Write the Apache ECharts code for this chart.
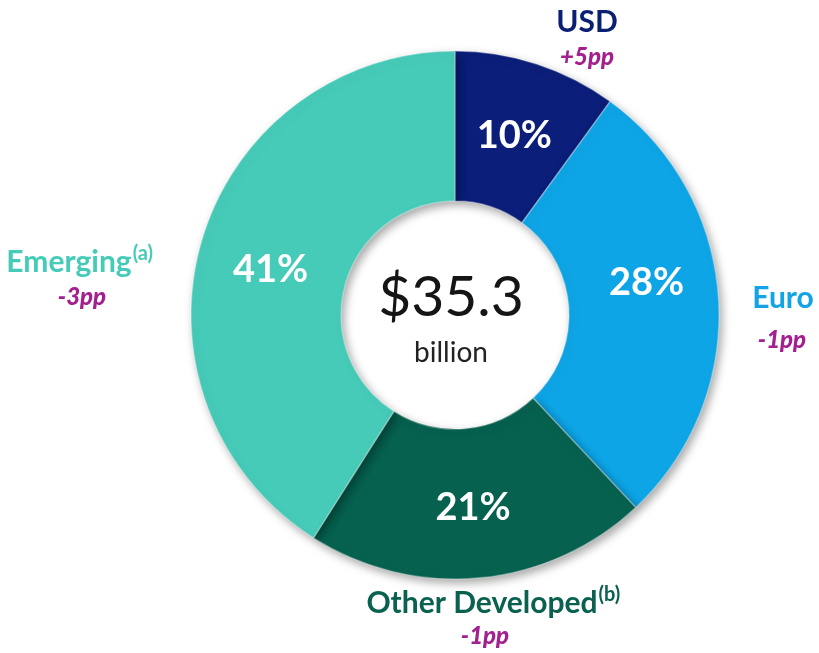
<!DOCTYPE html>
<html>
<head>
<meta charset="utf-8">
<script src="https://cdn.jsdelivr.net/npm/echarts@6/dist/echarts.min.js"></script>
<style>
  html, body { margin: 0; padding: 0; background: #fff; }
  #chart { width: 819px; height: 653px; }
</style>
</head>
<body>
<div id="chart"></div>
<script>
// currency mix, share of total (%)
const categories = ['USD', 'Euro', 'Other Developed', 'Emerging']
const shares = [10, 28, 21, 41]
const changes = ['+5pp', '-1pp', '-1pp', '-3pp']
const footnotes = ['', '', '(b)', '(a)']
const totalValue = '$35.3'
const totalUnit = 'billion'

const colors = ['#0b1f7a', '#0ea5e6', '#07614f', '#46cbb8']
const labelColors = ['#0b1f73', '#12a4e5', '#0a6150', '#45cbb7']
const changeColor = '#a3208e'
const font = 'Lato, "Open Sans", sans-serif'

// where the outside category labels sit (category line, change line below)
const outside = [
  { x: 587, y: 22 },
  { x: 783, y: 298 },
  { x: 482, y: 603 },
  { x: 69, y: 262 }
]
const changeX = [587, 782, 485, 82]
const changeY = [57, 340, 636, 297]

const chart = echarts.init(document.getElementById('chart'))

const graphics = [
  {
    type: 'text', x: 451, y: 298,
    style: { text: totalValue, font: '400 57px ' + font, fill: '#151515', align: 'center', verticalAlign: 'middle' }
  },
  {
    type: 'text', x: 451, y: 353,
    style: { text: totalUnit, font: '400 28px ' + font, fill: '#222', align: 'center', verticalAlign: 'middle' }
  }
]

// used to hang the superscripts off the right edge of their label
const ctx = document.createElement('canvas').getContext('2d')
ctx.font = 'bold 30px ' + font

categories.forEach((name, i) => {
  const pos = outside[i]
  graphics.push({
    type: 'text', x: pos.x, y: pos.y,
    style: { text: name, font: 'bold 30px ' + font, fill: labelColors[i], align: 'center', verticalAlign: 'middle' }
  })
  if (footnotes[i]) {
    graphics.push({
      type: 'text', x: pos.x + ctx.measureText(name).width / 2 + 1, y: pos.y - 8,
      style: { text: footnotes[i], font: 'bold 20px ' + font, fill: labelColors[i], align: 'left', verticalAlign: 'middle' }
    })
  }
  graphics.push({
    type: 'text', x: changeX[i], y: changeY[i],
    style: { text: changes[i], font: 'italic 900 24px ' + font, fill: changeColor, align: 'center', verticalAlign: 'middle' }
  })
})

chart.setOption({
  animation: false,
  series: [{
    type: 'pie',
    center: [455, 315],
    radius: [114, 264],
    startAngle: 90,
    clockwise: true,
    silent: true,
    itemStyle: {
      borderColor: 'rgba(255,255,255,0.3)',
      borderWidth: 1.5,
      shadowBlur: 10,
      shadowOffsetX: 3,
      shadowOffsetY: 4,
      shadowColor: 'rgba(0,0,0,0.35)'
    },
    label: {
      show: true,
      position: 'inside',
      formatter: '{c}%',
      color: '#fff',
      fontFamily: 'Lato',
      fontWeight: 'bold',
      fontSize: 38
    },
    labelLine: { show: false },
    labelLayout: function (params) {
      const shift = [[0, 3], [0, -20], [0, 2], [0, 8]]
      const s = shift[params.dataIndex]
      return { dx: s[0], dy: s[1] }
    },
    data: categories.map((name, i) => ({
      name: name,
      value: shares[i],
      itemStyle: { color: colors[i] }
    }))
  }],
  graphic: graphics
})
</script>
</body>
</html>
